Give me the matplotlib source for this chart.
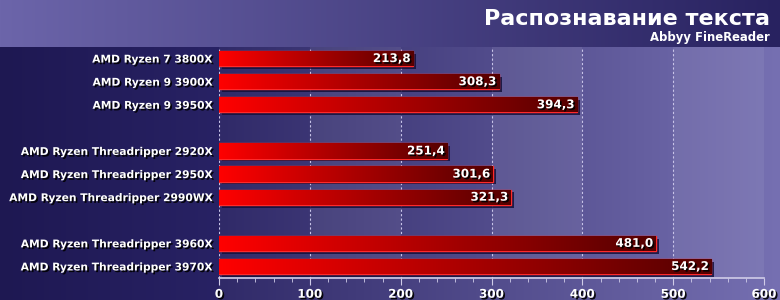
import matplotlib
matplotlib.use("Agg")
import matplotlib.pyplot as plt
import matplotlib.patheffects as pe
import numpy as np

# data
cpus = ["AMD Ryzen 7 3800X", "AMD Ryzen 9 3900X", "AMD Ryzen 9 3950X",
        "AMD Ryzen Threadripper 2920X", "AMD Ryzen Threadripper 2950X",
        "AMD Ryzen Threadripper 2990WX",
        "AMD Ryzen Threadripper 3960X", "AMD Ryzen Threadripper 3970X"]
scores = [213.8, 308.3, 394.3, 251.4, 301.6, 321.3, 481.0, 542.2]
rows = [0, 1, 2, 4, 5, 6, 8, 9]
xticks = [0, 100, 200, 300, 400, 500, 600]
title = "Распознавание текста"
subtitle = "Abbyy FineReader"

W, H = 780, 300
fig = plt.figure(figsize=(7.8, 3.0), dpi=100)

# background picture: header band, dark label column, plot gradient
bg = np.zeros((H, W, 3))
xs = np.linspace(0, 1, W)
left_w = 219
t = np.clip((np.arange(W) - left_w) / (W - left_w), 0, 1)
plot_c = np.outer(1 - t, [48, 42, 104]) + np.outer(t, [118, 112, 178])
bg[:, :, :] = plot_c[None, :, :]
tl = np.arange(left_w) / left_w
bg[:, :left_w, :] = (np.outer(1 - tl, [30, 24, 82]) + np.outer(tl, [40, 34, 100]))[None]
head = np.outer(1 - xs, [108, 101, 170]) + np.outer(xs, [40, 34, 96])
bg[:47, :, :] = head[None]
bgax = fig.add_axes([0, 0, 1, 1], zorder=-10)
bgax.imshow(bg / 255.0, aspect="auto", extent=(0, 1, 0, 1))
bgax.axis("off")

ax = fig.add_axes([219 / W, 1 - 278 / H, (764 - 219) / W, (278 - 47) / H])
ax.set_facecolor("none")
ax.set_xlim(0, 600)
ax.set_ylim(9.5, -0.5)

# alternating bands
for i in range(1, len(xticks) - 1, 2):
    ax.axvspan(xticks[i], xticks[i + 1], color="white", alpha=0.07, lw=0, zorder=0)
for x in xticks[1:-1]:
    ax.axvline(x, color="#c8c4e8", lw=0.8, ls=(0, (2, 2)), zorder=1)
ax.axvline(0, color="#c8c4e8", lw=0.8, ls=(0, (2, 2)), zorder=1)

shadow = [pe.SimplePatchShadow(offset=(2, -2), shadow_rgbFace="#14103a", alpha=0.85), pe.Normal()]
bars = ax.barh(rows, scores, height=0.66, color="#ff0000", edgecolor="#ff2a2a",
               lw=1.0, zorder=2, path_effects=shadow)

grad = np.linspace(0, 1, 256)
cols = np.zeros((1, 256, 3))
cols[0, :, 0] = (1 - grad) * 1.0 + grad * 0.33
for b in bars:
    x0, y0 = b.get_x(), b.get_y()
    img = ax.imshow(cols, aspect="auto", extent=(x0, x0 + b.get_width(), y0 + b.get_height(), y0),
                    zorder=3, interpolation="bilinear")
    img.set_clip_path(b)

txt_fx = [pe.withSimplePatchShadow(offset=(1.2, -1.2), shadow_rgbFace="black", alpha=0.9)]
for r, v in zip(rows, scores):
    ax.text(v - 3, r, f"{v:.1f}".replace(".", ","), ha="right", va="center",
            color="white", fontsize=8.6, fontweight="bold", zorder=5, path_effects=txt_fx)

ax.set_yticks(rows)
ax.set_yticklabels(cpus)
ax.set_xticks(xticks)
ax.set_xticks(np.arange(0, 601, 20), minor=True)
ax.tick_params(axis="y", length=0, pad=5, labelsize=7.7, labelcolor="white")
ax.tick_params(axis="x", which="major", length=5, color="#d0cce8", labelsize=8.6,
               labelcolor="white", pad=2)
ax.tick_params(axis="x", which="minor", length=3, color="#d0cce8")
for lab in ax.get_yticklabels() + ax.get_xticklabels():
    lab.set_fontweight("bold")
    lab.set_path_effects(txt_fx)
for s in ["top", "right", "left"]:
    ax.spines[s].set_visible(False)
ax.spines["bottom"].set_color("#d0cce8")
ax.spines["bottom"].set_linewidth(1.2)

fig.text(770 / W, 1 - 19 / H, title, ha="right", va="center", color="white",
         fontsize=16, fontweight="bold")
fig.text(770 / W, 1 - 37 / H, subtitle, ha="right", va="center", color="white",
         fontsize=8.4, fontweight="bold")

fig.savefig("out.png", dpi=100)
